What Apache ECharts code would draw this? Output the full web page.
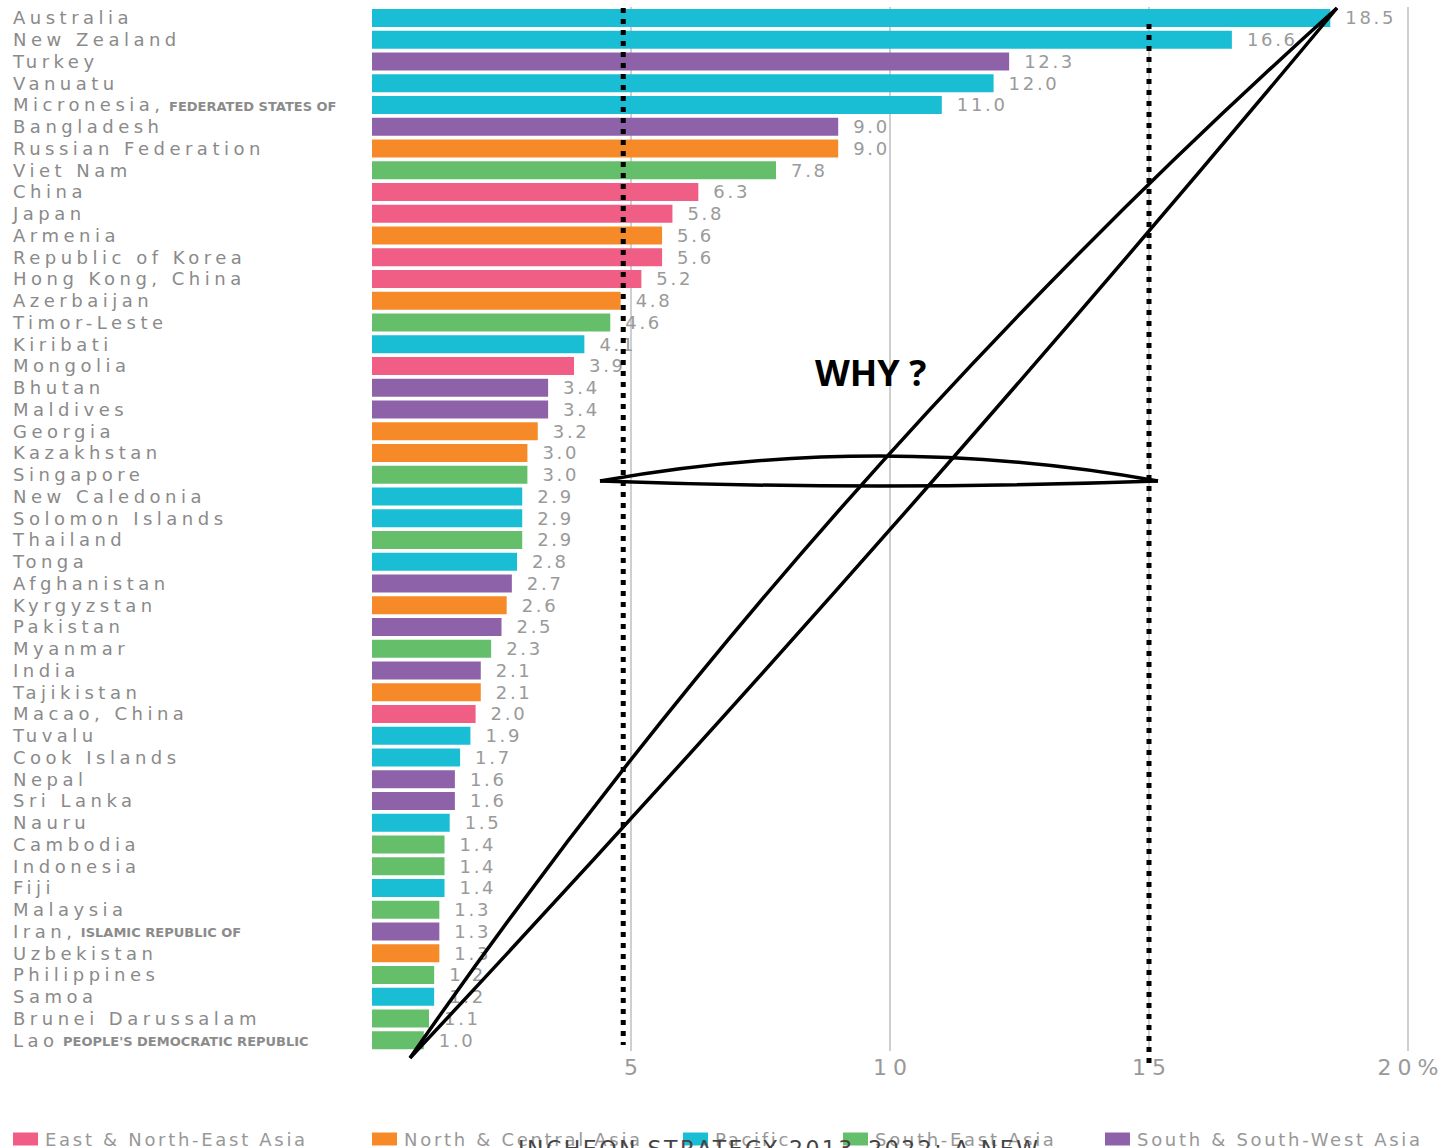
<!DOCTYPE html>
<html>
<head>
<meta charset="utf-8">
<script src="https://cdn.jsdelivr.net/npm/echarts@6/dist/echarts.min.js"></script>
<style>
    html, body { margin: 0; padding: 0; background: #fff; }
    #chart { width: 1443px; height: 1148px; }
    /* the source chart uses widely tracked lettering */
    #chart text[fill="#8a8a8a"] { letter-spacing: 4.5px; }
    #chart text[fill="#9a9a9a"] { letter-spacing: 2.7px; }
    #chart text[fill="#989898"] { letter-spacing: 2.7px; }
    #chart text[fill="#999999"] { letter-spacing: 6px; }
    #chart text[fill="#444444"] { letter-spacing: 2.5px; }
</style>
</head>
<body>
<div id="chart"></div>
<script>
var FONT = "'DejaVu Sans'";

var countries = ['Australia', 'New Zealand', 'Turkey', 'Vanuatu', 'Micronesia', 'Bangladesh',
    'Russian Federation', 'Viet Nam', 'China', 'Japan', 'Armenia', 'Republic of Korea',
    'Hong Kong, China', 'Azerbaijan', 'Timor-Leste', 'Kiribati', 'Mongolia', 'Bhutan',
    'Maldives', 'Georgia', 'Kazakhstan', 'Singapore', 'New Caledonia', 'Solomon Islands',
    'Thailand', 'Tonga', 'Afghanistan', 'Kyrgyzstan', 'Pakistan', 'Myanmar', 'India',
    'Tajikistan', 'Macao, China', 'Tuvalu', 'Cook Islands', 'Nepal', 'Sri Lanka', 'Nauru',
    'Cambodia', 'Indonesia', 'Fiji', 'Malaysia', 'Iran', 'Uzbekistan', 'Philippines',
    'Samoa', 'Brunei Darussalam', 'Lao'];

var values = [18.5, 16.6, 12.3, 12.0, 11.0, 9.0, 9.0, 7.8, 6.3, 5.8, 5.6, 5.6, 5.2, 4.8,
    4.6, 4.1, 3.9, 3.4, 3.4, 3.2, 3.0, 3.0, 2.9, 2.9, 2.9, 2.8, 2.7, 2.6, 2.5, 2.3, 2.1,
    2.1, 2.0, 1.9, 1.7, 1.6, 1.6, 1.5, 1.4, 1.4, 1.4, 1.3, 1.3, 1.3, 1.2, 1.2, 1.1, 1.0];

// region code per country, same order as countries
var regionOf = ['P', 'P', 'S', 'P', 'P', 'S', 'N', 'SE', 'E', 'E', 'N', 'E', 'E', 'N', 'SE',
    'P', 'E', 'S', 'S', 'N', 'N', 'SE', 'P', 'P', 'SE', 'P', 'S', 'N', 'S', 'SE', 'S', 'N',
    'E', 'P', 'P', 'S', 'S', 'P', 'SE', 'SE', 'P', 'SE', 'S', 'N', 'SE', 'P', 'SE', 'SE'];

var regionCodes = ['E', 'N', 'P', 'SE', 'S'];
var regionNames = ['East & North-East Asia', 'North & Central Asia', 'Pacific',
    'South-East Asia', 'South & South-West Asia'];
var regionColors = ['#f05e86', '#f68a29', '#19bed5', '#64be6a', '#8e62a9'];

var qualifiers = {
    'Micronesia': ', FEDERATED STATES OF',
    'Iran': ', ISLAMIC REPUBLIC OF',
    'Lao': " PEOPLE'S DEMOCRATIC REPUBLIC"
};

var xTicks = [0, 5, 10, 15, 20];

var chart = echarts.init(document.getElementById('chart'), null, { renderer: 'svg' });

function splitName(name) {
    var q = qualifiers[name];
    var main = q.charAt(0) === ',' ? name + ',' : name;
    var rest = q.charAt(0) === ',' ? q.slice(2) : q.slice(1);
    // pad the small caps by the extra tracking of the main word
    var pad = Math.round(main.length * 4.5 + 4);
    return { main: main, rest: rest, pad: pad };
}

function countryLabel(name) {
    if (!qualifiers[name]) return name;
    var s = splitName(name);
    return '{n|' + s.main + '}{q' + s.pad + '|' + s.rest + '}';
}

var rich = { n: { fontSize: 18, fontFamily: FONT, color: '#8a8a8a' } };
countries.forEach(function (c) {
    if (!qualifiers[c]) return;
    var s = splitName(c);
    rich['q' + s.pad] = {
        fontSize: 13, fontWeight: 'bold', fontFamily: FONT, color: '#8b8b8b',
        padding: [3, 0, 0, s.pad]
    };
});

var series = regionCodes.map(function (code, k) {
    return {
        name: regionNames[k],
        type: 'bar',
        barWidth: 18,
        barGap: '-100%',
        itemStyle: { color: regionColors[k] },
        label: {
            show: true,
            position: 'right',
            distance: 15,
            color: '#9a9a9a',
            fontSize: 18,
            fontFamily: FONT,
            formatter: function (p) { return Number(p.value).toFixed(1); }
        },
        data: values.map(function (v, i) { return regionOf[i] === code ? v : '-'; })
    };
});

var legendLeft = [13, 372, 683, 843, 1105];

chart.setOption({
    animation: false,
    backgroundColor: '#fff',
    grid: { left: 372, right: 35, top: 7, bottom: 97 },
    legend: regionNames.map(function (name, k) {
        return {
            data: [name],
            left: legendLeft[k],
            top: 1130,
            padding: 0,
            icon: 'rect',
            itemWidth: 25,
            itemHeight: 13,
            selectedMode: false,
            textStyle: { color: '#989898', fontSize: 18, fontFamily: FONT, padding: [0, 0, 0, 2] }
        };
    }),
    xAxis: {
        type: 'value',
        min: xTicks[0],
        max: xTicks[xTicks.length - 1],
        interval: 5,
        axisLine: { show: false },
        axisTick: { show: false },
        splitLine: { show: true, showMinLine: false, lineStyle: { color: '#cfcfcf', width: 2 } },
        axisLabel: {
            color: '#999999',
            fontSize: 22,
            fontFamily: FONT,
            margin: 5,
            padding: [0, 0, 0, 6],
            formatter: function (v) {
                if (v === 0) return '';
                return v === 20 ? v + '%' : String(v);
            }
        }
    },
    yAxis: {
        type: 'category',
        inverse: true,
        data: countries,
        axisLine: { show: false },
        axisTick: { show: false },
        axisLabel: {
            interval: 0,
            align: 'left',
            margin: 359,
            color: '#8a8a8a',
            fontSize: 18,
            fontFamily: FONT,
            formatter: countryLabel,
            rich: rich
        }
    },
    series: series
});

// hand-drawn annotations laid over the chart
var xL = chart.convertToPixel({ xAxisIndex: 0 }, 4.85);
var xR = chart.convertToPixel({ xAxisIndex: 0 }, 15);
var dotted = { stroke: '#000', lineWidth: 5, lineDash: [5, 6] };
var ink = { stroke: '#000', lineWidth: 3.5, fill: 'transparent' };

chart.setOption({
    graphic: [
        { type: 'line', z: 100, shape: { x1: xL, y1: 8, x2: xL, y2: 1045 }, style: dotted },
        { type: 'line', z: 100, shape: { x1: xR, y1: 24, x2: xR, y2: 1065 }, style: dotted },
        { type: 'bezierCurve', z: 101, shape: { x1: 600, y1: 481, cpx1: 879, cpy1: 431, x2: 1158, y2: 481 }, style: ink },
        { type: 'bezierCurve', z: 101, shape: { x1: 600, y1: 481, cpx1: 879, cpy1: 491, x2: 1158, y2: 481 }, style: ink },
        { type: 'bezierCurve', z: 101, shape: { x1: 410, y1: 1058, cpx1: 812, cpy1: 479, x2: 1337, y2: 8 }, style: ink },
        { type: 'bezierCurve', z: 101, shape: { x1: 410, y1: 1058, cpx1: 889, cpy1: 546, x2: 1337, y2: 8 }, style: ink },
        {
            type: 'text', z: 102, x: 815, y: 372,
            style: { text: 'WHY ?', fontSize: 36, fontWeight: 'bold', fontFamily: "'Open Sans'", fill: '#000', verticalAlign: 'middle' }
        },
        {
            type: 'text', z: 102, x: 518, y: 1137,
            style: { text: 'INCHEON STRATEGY 2013\u20132022: A NEW', fontSize: 22, fontFamily: FONT, fill: '#444444', verticalAlign: 'top' }
        }
    ]
});
</script>
</body>
</html>
